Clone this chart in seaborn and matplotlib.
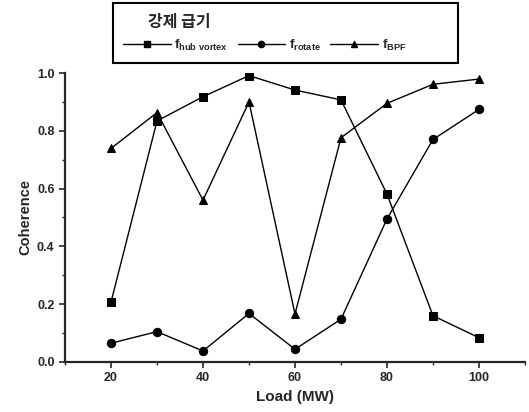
import matplotlib
matplotlib.use("Agg")
import matplotlib.pyplot as plt
import seaborn as sns
import pandas as pd
from matplotlib.lines import Line2D
from matplotlib.patches import Rectangle
from matplotlib.ticker import MultipleLocator

load = [20, 30, 40, 50, 60, 70, 80, 90, 100]
hub_vortex = [0.207, 0.834, 0.918, 0.991, 0.941, 0.907, 0.581, 0.160, 0.084]
rotate = [0.065, 0.105, 0.038, 0.168, 0.044, 0.148, 0.495, 0.770, 0.874]
bpf = [0.739, 0.863, 0.560, 0.900, 0.166, 0.776, 0.895, 0.961, 0.979]
series_labels = ["f$_{\\mathrm{hub\\ vortex}}$", "f$_{\\mathrm{rotate}}$", "f$_{\\mathrm{BPF}}$"]
legend_title = "강제 급기"
x_label = "Load (MW)"
y_label = "Coherence"

sns.set_style("ticks")
plt.rcParams["font.family"] = ["Liberation Sans", "Noto Sans CJK KR", "DejaVu Sans"]
plt.rcParams["font.weight"] = "bold"
plt.rcParams["mathtext.fontset"] = "custom"
plt.rcParams["mathtext.rm"] = "Liberation Sans:bold"
plt.rcParams["mathtext.it"] = "Liberation Sans:bold"
plt.rcParams["mathtext.bf"] = "Liberation Sans:bold"

fig = plt.figure(figsize=(5.29, 4.12), dpi=100)
ax = fig.add_axes([0.1229, 0.1214, 0.8695, 0.7014])

markers = ["s", "o", "^"]
for vals, mk in zip([hub_vortex, rotate, bpf], markers):
    df = pd.DataFrame({"load": load, "val": vals})
    sns.lineplot(data=df, x="load", y="val", ax=ax, color="black", lw=1.0,
                 marker=mk, markersize=6, markeredgecolor="black", legend=False)

ax.set_xlim(10, 110)
ax.set_ylim(0, 1.0)
ax.xaxis.set_major_locator(MultipleLocator(20))
ax.xaxis.set_minor_locator(MultipleLocator(10))
ax.yaxis.set_major_locator(MultipleLocator(0.2))
ax.yaxis.set_minor_locator(MultipleLocator(0.1))
ax.yaxis.set_major_formatter(matplotlib.ticker.FormatStrFormatter("%.1f"))
ax.tick_params(which="major", direction="out", length=4, width=1.2, labelsize=9)
ax.tick_params(which="minor", direction="out", length=2, width=1.0)
for lab in ax.get_xticklabels() + ax.get_yticklabels():
    lab.set_fontweight("bold")
sns.despine(ax=ax)
ax.spines["left"].set_linewidth(1.6)
ax.spines["bottom"].set_linewidth(1.6)
ax.set_xlabel(x_label, fontsize=11, fontweight="bold", labelpad=4)
ax.set_ylabel(y_label, fontsize=10.5, fontweight="bold", labelpad=3)

# legend frame
fig.patches.append(Rectangle((113 / 529, 1 - 63 / 412), 345 / 529, 60 / 412,
                             transform=fig.transFigure, fill=False,
                             edgecolor="black", linewidth=1.5))
fig.text(148 / 529, 1 - 22 / 412, legend_title, family="Noto Sans CJK KR",
         fontweight="bold", fontsize=11.5, va="center", ha="left")

handles = [Line2D([], [], color="black", lw=1.0, marker=mk, markersize=4.5) for mk in markers]
leg = fig.legend(handles, series_labels, loc="center left",
                 bbox_to_anchor=(123 / 529, 1 - 45 / 412),
                 ncol=3, frameon=False, fontsize=9.5,
                 handlelength=3.6, handletextpad=0.3, columnspacing=0.7,
                 borderpad=0, borderaxespad=0)

fig.savefig("out.png", dpi=100)
